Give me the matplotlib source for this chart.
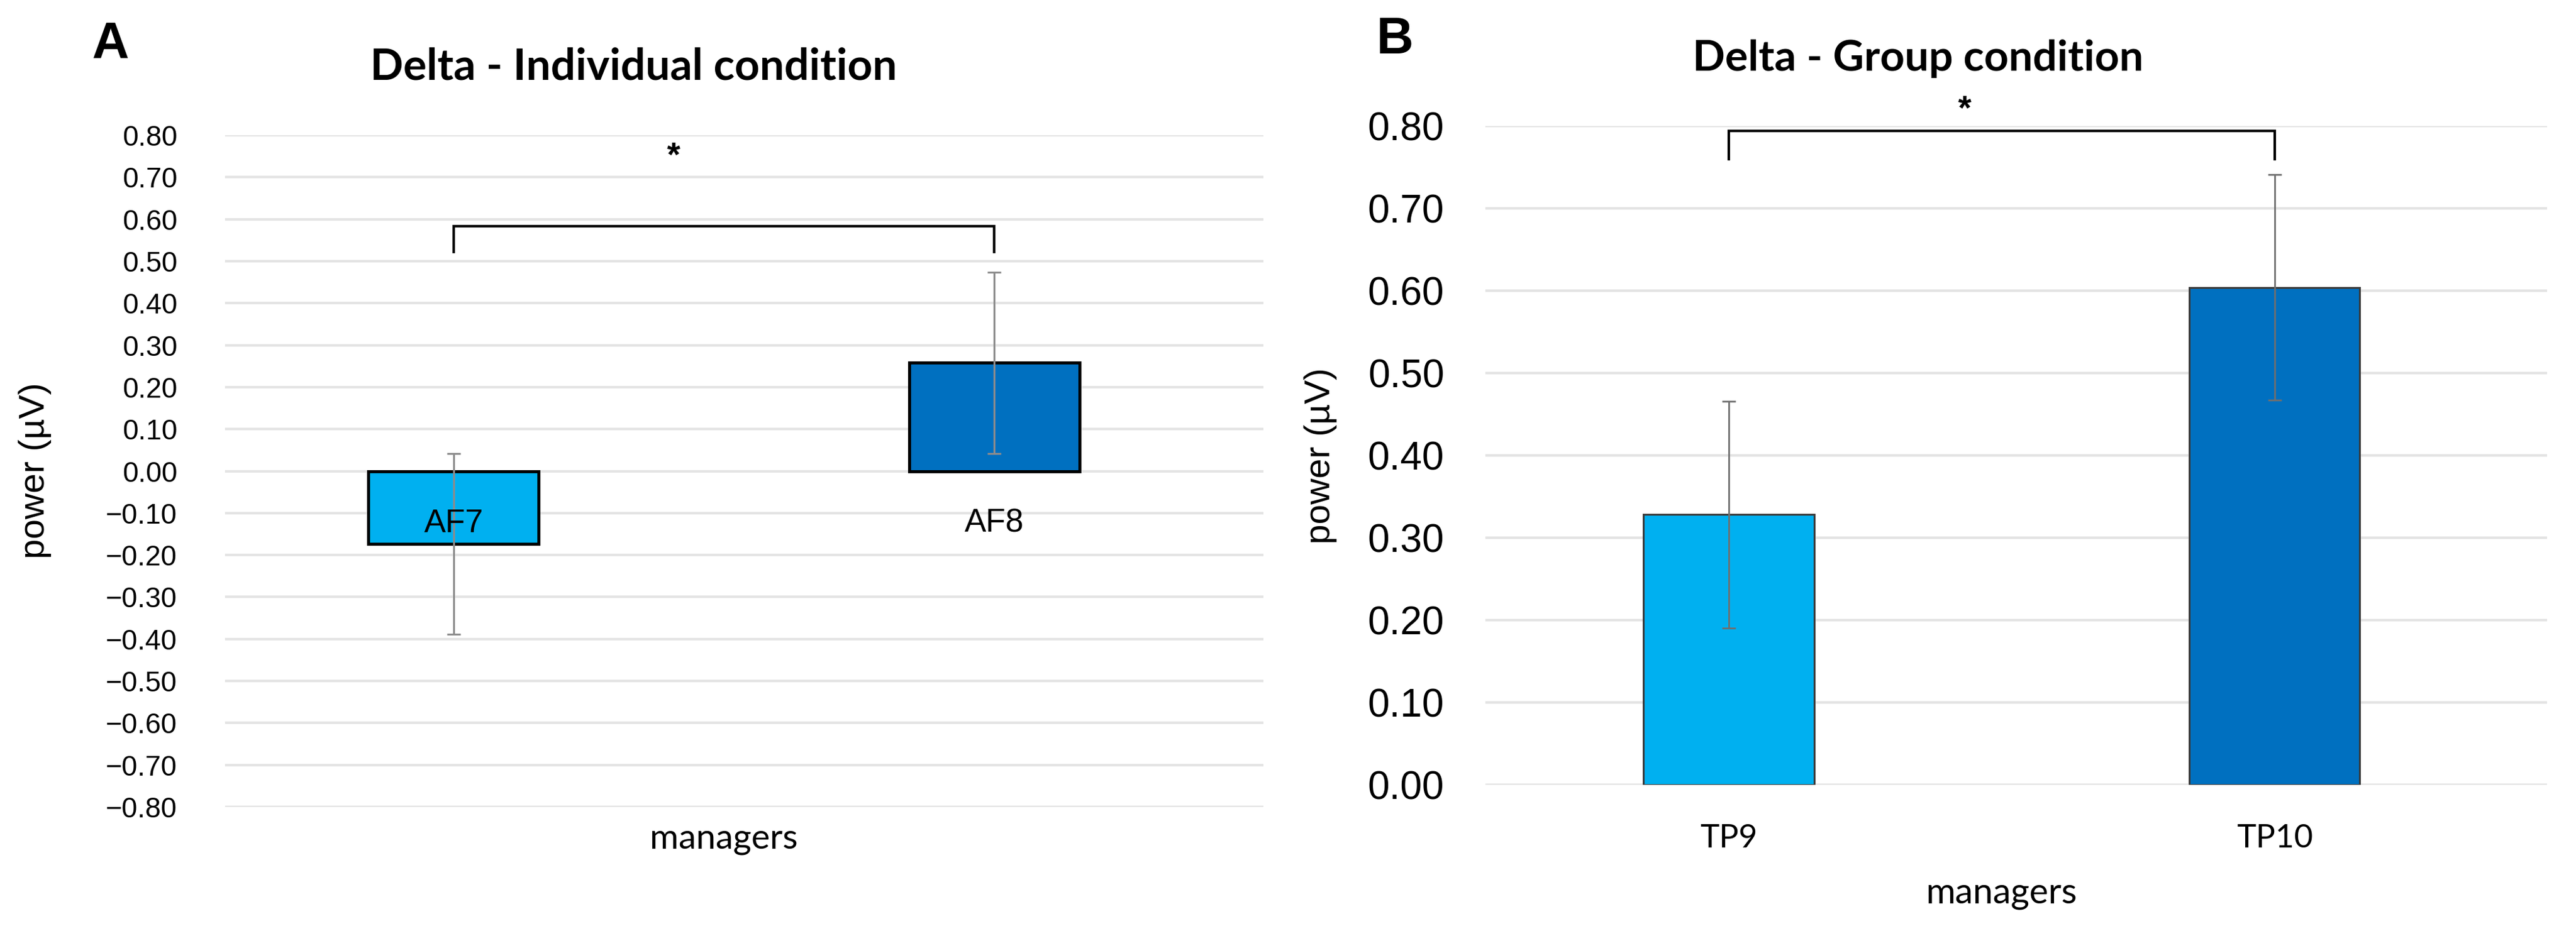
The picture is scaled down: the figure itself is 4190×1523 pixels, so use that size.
import matplotlib
matplotlib.use("Agg")
import matplotlib.pyplot as plt
import matplotlib.ticker as mticker
import matplotlib.transforms as mtrans

# panel A - individual condition
ind_labels = ["AF7", "AF8"]
ind_values = [-0.174, 0.258]
ind_err = [0.215, 0.216]

# panel B - group condition
grp_labels = ["TP9", "TP10"]
grp_values = [0.328, 0.604]
grp_err = [0.138, 0.137]

bar_colors = ["#00B0F0", "#0070C0"]
grid_col = "#e4e4e4"
W, H = 4190, 1523
DPI = 200

fig = plt.figure(figsize=(W / DPI, H / DPI), dpi=DPI)

def fx(px):
    return px / W

def fy(px):
    return 1 - px / H

def fmt(v, pos):
    return ("%.2f" % v).replace("-", "\u2212")

# ---------- A ----------
axA = fig.add_axes([fx(366), fy(1313), fx(2055 - 366), (1313 - 220) / H])
xa = [0, 1]
axA.bar(xa, ind_values, width=0.315, color=bar_colors, edgecolor="black",
        linewidth=1.8, yerr=ind_err,
        error_kw=dict(ecolor="#8c8c8c", elinewidth=1.1, capsize=4, capthick=1.1))
axA.set_xlim(-0.423, 1.498)
axA.set_ylim(-0.8, 0.8)
axA.yaxis.set_major_locator(mticker.MultipleLocator(0.1))
axA.yaxis.set_major_formatter(mticker.FuncFormatter(fmt))
axA.set_xticks([])
axA.set_axisbelow(True)
axA.grid(axis="y", color=grid_col, linewidth=1.5)
for s in axA.spines.values():
    s.set_visible(False)
axA.tick_params(axis="y", length=0, pad=28, labelsize=16.5)
for t in axA.get_yticklabels():
    t.set_fontfamily("Liberation Sans")
for x, lab in zip(xa, ind_labels):
    axA.text(x, -0.125, lab, ha="center", va="center", fontsize=19,
             family="Liberation Sans", zorder=5)
# significance bracket
axA.plot([xa[0], xa[0], xa[1], xa[1]], [0.522, 0.584, 0.584, 0.522],
         color="black", linewidth=1.5, solid_joinstyle="miter")
axA.text(0.407, 0.748, "*", ha="center", va="center", fontsize=20,
         fontweight="bold", family="Liberation Sans")
trA = mtrans.blended_transform_factory(axA.transData, axA.transAxes)
axA.text(0.5, -0.0613, "managers", transform=trA, ha="center", va="baseline",
         fontsize=20.5, family="Lato")

fig.text(fx(57), fy(766), "power (\u00b5V)", rotation=90, ha="center",
         va="center", fontsize=21, family="Liberation Sans")
fig.text(fx(1031), fy(130), "Delta - Individual condition", ha="center",
         va="baseline", fontsize=25.5, fontweight="bold", family="Lato")
fig.text(fx(150), fy(94), "A", ha="left", va="baseline", fontsize=30,
         fontweight="bold", family="Liberation Sans")

# ---------- B ----------
axB = fig.add_axes([fx(2416), fy(1277), fx(4143 - 2416), (1277 - 205) / H])
xb = [0, 1]
axB.bar(xb, grp_values, width=0.312, color=bar_colors, edgecolor="#3a3a3a",
        linewidth=1.1, yerr=grp_err,
        error_kw=dict(ecolor="#6f6f6f", elinewidth=1.0, capsize=4, capthick=1.0))
axB.set_xlim(-0.446, 1.499)
axB.set_ylim(0, 0.8)
axB.yaxis.set_major_locator(mticker.MultipleLocator(0.1))
axB.yaxis.set_major_formatter(mticker.FuncFormatter(fmt))
axB.set_xticks(xb)
axB.set_xticklabels(grp_labels, fontsize=19, family="Lato")
axB.set_axisbelow(True)
axB.grid(axis="y", color=grid_col, linewidth=1.5)
for s in axB.spines.values():
    s.set_visible(False)
axB.tick_params(axis="y", length=0, pad=24, labelsize=23)
axB.tick_params(axis="x", length=0, pad=23)
for t in axB.get_yticklabels():
    t.set_fontfamily("Liberation Sans")
axB.plot([xb[0], xb[0], xb[1], xb[1]], [0.760, 0.794, 0.794, 0.760],
         color="black", linewidth=1.5, solid_joinstyle="miter", clip_on=False)
axB.text(0.432, 0.819, "*", ha="center", va="center", fontsize=20,
         fontweight="bold", family="Liberation Sans", clip_on=False)
trB = mtrans.blended_transform_factory(axB.transData, axB.transAxes)
axB.text(0.5, -0.180, "managers", transform=trB, ha="center", va="baseline",
         fontsize=21, family="Lato")

fig.text(fx(2148), fy(742), "power (\u00b5V)", rotation=90, ha="center",
         va="center", fontsize=21, family="Liberation Sans")
fig.text(fx(3120), fy(115), "Delta - Group condition", ha="center",
         va="baseline", fontsize=25, fontweight="bold", family="Lato")
fig.text(fx(2238), fy(87), "B", ha="left", va="baseline", fontsize=30,
         fontweight="bold", family="Liberation Sans")

fig.savefig("out.png", dpi=DPI, facecolor="white")
